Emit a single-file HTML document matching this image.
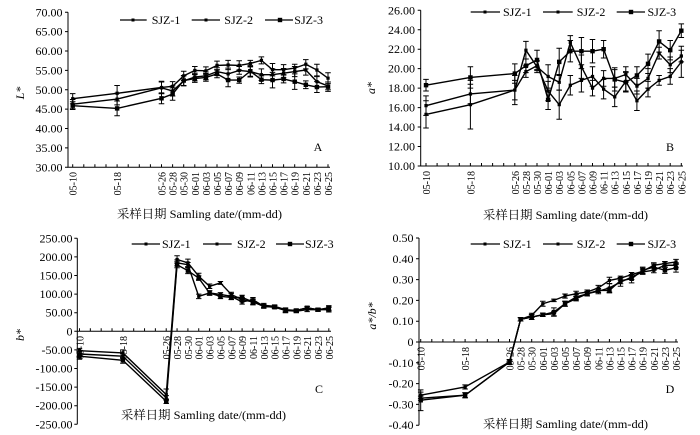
<!DOCTYPE html>
<html><head><meta charset="utf-8"><style>
html,body{margin:0;padding:0;background:#fff}
svg{display:block}
text{font-family:"Liberation Serif","Noto Serif CJK SC",serif;fill:#000}
.d path,.d polyline{vector-effect:non-scaling-stroke;fill:none;stroke:#000}
.d polyline{stroke-width:1.4}
.d .e{stroke-width:1}
.d .m1{stroke-width:3.2;stroke-linecap:square}
.d .m3{stroke-width:4.4;stroke-linecap:square}
.ax{stroke:#000;fill:none;stroke-width:1}
.tk{stroke:#000;stroke-width:3}
.yl text{font-size:12px;text-anchor:end}
.xl text{font-size:10px;text-anchor:end}
.lg text{font-size:12px}
.lg path{stroke:#000;stroke-width:1.3}
</style></head><body>
<svg width="700" height="435" viewBox="0 0 700 435" xmlns="http://www.w3.org/2000/svg">
<rect width="700" height="435" fill="#fff"/>

<!-- ============ PANEL A ============ -->
<path class="ax" d="M68,12.3V167.3H330"/>
<line class="tk" x1="72.2" y1="165.8" x2="330" y2="165.8" stroke-dasharray="1 10.1"/>
<line class="tk" x1="66.5" y1="11.8" x2="66.5" y2="168" stroke-dasharray="1 18.375"/>
<g class="yl">
<text x="62.5" y="16.3">70.00</text><text x="62.5" y="35.7">65.00</text><text x="62.5" y="55.1">60.00</text>
<text x="62.5" y="74.4">55.00</text><text x="62.5" y="93.8">50.00</text><text x="62.5" y="113.2">45.00</text>
<text x="62.5" y="132.6">40.00</text><text x="62.5" y="151.9">35.00</text><text x="62.5" y="171.3">30.00</text>
</g>
<g class="xl" transform="translate(0,172)">
<text transform="translate(76.7,0) rotate(-90)">05-10</text>
<text transform="translate(121.1,0) rotate(-90)">05-18</text>
<text transform="translate(165.5,0) rotate(-90)">05-26</text>
<text transform="translate(176.6,0) rotate(-90)">05-28</text>
<text transform="translate(187.7,0) rotate(-90)">05-30</text>
<text transform="translate(198.8,0) rotate(-90)">06-01</text>
<text transform="translate(209.9,0) rotate(-90)">06-03</text>
<text transform="translate(221,0) rotate(-90)">06-05</text>
<text transform="translate(232.1,0) rotate(-90)">06-07</text>
<text transform="translate(243.2,0) rotate(-90)">06-09</text>
<text transform="translate(254.3,0) rotate(-90)">06-11</text>
<text transform="translate(265.4,0) rotate(-90)">06-13</text>
<text transform="translate(276.5,0) rotate(-90)">06-15</text>
<text transform="translate(287.6,0) rotate(-90)">06-17</text>
<text transform="translate(298.7,0) rotate(-90)">06-19</text>
<text transform="translate(309.8,0) rotate(-90)">06-21</text>
<text transform="translate(320.9,0) rotate(-90)">06-23</text>
<text transform="translate(332,0) rotate(-90)">06-25</text>
</g>
<text transform="translate(24,93) rotate(-90)" font-size="12" font-style="italic" text-anchor="middle">L*</text>
<text x="318" y="151" font-size="12" text-anchor="middle">A</text>
<text x="117" y="218" font-size="12" textLength="165" lengthAdjust="spacingAndGlyphs">采样日期 Samling date/(mm-dd)</text>
<g class="lg">
<path d="M120,20H146.7"/><rect x="131.5" y="18.5" width="3" height="3"/><text x="151.7" y="24">SJZ-1</text>
<path d="M191.7,20H220"/><rect x="204.5" y="18.5" width="3" height="3"/><text x="224.3" y="24">SJZ-2</text>
<path d="M265,20H293"/><rect x="277.8" y="17.8" width="4.4" height="4.4"/><text x="294.3" y="24">SJZ-3</text>
</g>
<g class="d" transform="matrix(5.55 0 0 -3.875 72.7 283.55)">
<polyline points="0,47.7 8,49.1 16,50.6 18,50.9 20,53.6 22,55 24,54.9 26,56.3 28,56.4 30,56.3 32,56.8 34,57.6 36,55.2 38,55.2 40,55.6 42,56.6 44,55.1 46,53"/>
<polyline points="0,46.3 8,47.6 16,50.5 18,49.7 20,52.3 22,53.3 24,53.6 26,54.7 28,54.1 30,55 32,54.7 34,53.9 36,53.9 38,54.3 40,54.7 42,55.1 44,52.1 46,51"/>
<polyline points="0,45.9 8,45.2 16,47.8 18,48.9 20,52.4 22,52.9 24,53.2 26,54.1 28,52.5 30,52.5 32,54.8 34,52.6 36,52.5 38,52.8 40,52.1 42,51.3 44,50.7 46,50.8"/>
<path class="e" d="M0,47.7m-.5,-1.3h1m-.5,0v2.6m-.5,0h1M8,49.1m-.5,-2h1m-.5,0v4m-.5,0h1M16,50.6m-.5,-1.6h1m-.5,0v3.2m-.5,0h1M18,50.9m-.5,-1.2h1m-.5,0v2.4m-.5,0h1M20,53.6m-.5,-1.2h1m-.5,0v2.4m-.5,0h1M22,55m-.5,-1h1m-.5,0v2m-.5,0h1M24,54.9m-.5,-1h1m-.5,0v2m-.5,0h1M26,56.3m-.5,-1.1h1m-.5,0v2.2m-.5,0h1M28,56.4m-.5,-1.2h1m-.5,0v2.4m-.5,0h1M30,56.3m-.5,-1.2h1m-.5,0v2.4m-.5,0h1M32,56.8m-.5,-.8h1m-.5,0v1.6m-.5,0h1M34,57.6m-.5,-.9h1m-.5,0v1.8m-.5,0h1M36,55.2m-.5,-1.6h1m-.5,0v3.2m-.5,0h1M38,55.2m-.5,-1.3h1m-.5,0v2.6m-.5,0h1M40,55.6m-.5,-1h1m-.5,0v2m-.5,0h1M42,56.6m-.5,-1.2h1m-.5,0v2.4m-.5,0h1M44,55.1m-.5,-1.5h1m-.5,0v3m-.5,0h1M46,53m-.5,-1.4h1m-.5,0v2.8m-.5,0h1"/>
<path class="e" d="M0,46.3m-.5,-1.2h1m-.5,0v2.4m-.5,0h1M8,47.6m-.5,-1.5h1m-.5,0v3m-.5,0h1M16,50.5m-.5,-1.5h1m-.5,0v3m-.5,0h1M18,49.7m-.5,-1.3h1m-.5,0v2.6m-.5,0h1M20,52.3m-.5,-1.3h1m-.5,0v2.6m-.5,0h1M22,53.3m-.5,-1h1m-.5,0v2m-.5,0h1M24,53.6m-.5,-1h1m-.5,0v2m-.5,0h1M26,54.7m-.5,-1h1m-.5,0v2m-.5,0h1M28,54.1m-.5,-1.5h1m-.5,0v3m-.5,0h1M30,55m-.5,-1h1m-.5,0v2m-.5,0h1M32,54.7m-.5,-1.2h1m-.5,0v2.4m-.5,0h1M34,53.9m-.5,-1.5h1m-.5,0v3m-.5,0h1M36,53.9m-.5,-1.5h1m-.5,0v3m-.5,0h1M38,54.3m-.5,-1.2h1m-.5,0v2.4m-.5,0h1M40,54.7m-.5,-1.3h1m-.5,0v2.6m-.5,0h1M42,55.1m-.5,-1.3h1m-.5,0v2.6m-.5,0h1M44,52.1m-.5,-1.3h1m-.5,0v2.6m-.5,0h1M46,51m-.5,-1h1m-.5,0v2m-.5,0h1"/>
<path class="e" d="M0,45.9m-.5,-1h1m-.5,0v2m-.5,0h1M8,45.2m-.5,-1.9h1m-.5,0v3.8m-.5,0h1M16,47.8m-.5,-1.4h1m-.5,0v2.8m-.5,0h1M18,48.9m-.5,-1.6h1m-.5,0v3.2m-.5,0h1M20,52.4m-.5,-1.3h1m-.5,0v2.6m-.5,0h1M22,52.9m-.5,-1h1m-.5,0v2m-.5,0h1M24,53.2m-.5,-1h1m-.5,0v2m-.5,0h1M26,54.1m-.5,-1h1m-.5,0v2m-.5,0h1M28,52.5m-.5,-1.7h1m-.5,0v3.4m-.5,0h1M30,52.5m-.5,-.8h1m-.5,0v1.6m-.5,0h1M32,54.8m-.5,-1.5h1m-.5,0v3m-.5,0h1M34,52.6m-.5,-1h1m-.5,0v2m-.5,0h1M36,52.5m-.5,-2h1m-.5,0v4m-.5,0h1M38,52.8m-.5,-1h1m-.5,0v2m-.5,0h1M40,52.1m-.5,-2h1m-.5,0v4m-.5,0h1M42,51.3m-.5,-1h1m-.5,0v2m-.5,0h1M44,50.7m-.5,-1.4h1m-.5,0v2.8m-.5,0h1M46,50.8m-.5,-1.2h1m-.5,0v2.4m-.5,0h1"/>
<path class="m1" d="M0,47.7h.01M8,49.1h.01M16,50.6h.01M18,50.9h.01M20,53.6h.01M22,55h.01M24,54.9h.01M26,56.3h.01M28,56.4h.01M30,56.3h.01M32,56.8h.01M34,57.6h.01M36,55.2h.01M38,55.2h.01M40,55.6h.01M42,56.6h.01M44,55.1h.01M46,53h.01"/>
<path class="m1" d="M0,46.3h.01M8,47.6h.01M16,50.5h.01M18,49.7h.01M20,52.3h.01M22,53.3h.01M24,53.6h.01M26,54.7h.01M28,54.1h.01M30,55h.01M32,54.7h.01M34,53.9h.01M36,53.9h.01M38,54.3h.01M40,54.7h.01M42,55.1h.01M44,52.1h.01M46,51h.01"/>
<path class="m3" d="M0,45.9h.01M8,45.2h.01M16,47.8h.01M18,48.9h.01M20,52.4h.01M22,52.9h.01M24,53.2h.01M26,54.1h.01M28,52.5h.01M30,52.5h.01M32,54.8h.01M34,52.6h.01M36,52.5h.01M38,52.8h.01M40,52.1h.01M42,51.3h.01M44,50.7h.01M46,50.8h.01"/>
</g>

<!-- ============ PANEL B ============ -->
<path class="ax" d="M420.7,10.3V166H683"/>
<line class="tk" x1="425.5" y1="164.5" x2="683" y2="164.5" stroke-dasharray="1 10.1"/>
<line class="tk" x1="419.2" y1="9.8" x2="419.2" y2="167" stroke-dasharray="1 18.46"/>
<g class="yl">
<text x="415" y="14.3">26.00</text><text x="415" y="33.8">24.00</text><text x="415" y="53.2">22.00</text>
<text x="415" y="72.7">20.00</text><text x="415" y="92.1">18.00</text><text x="415" y="111.6">16.00</text>
<text x="415" y="131.1">14.00</text><text x="415" y="150.5">12.00</text><text x="415" y="170">10.00</text>
</g>
<g class="xl" transform="translate(353.3,171)">
<text transform="translate(76.7,0) rotate(-90)">05-10</text>
<text transform="translate(121.1,0) rotate(-90)">05-18</text>
<text transform="translate(165.5,0) rotate(-90)">05-26</text>
<text transform="translate(176.6,0) rotate(-90)">05-28</text>
<text transform="translate(187.7,0) rotate(-90)">05-30</text>
<text transform="translate(198.8,0) rotate(-90)">06-01</text>
<text transform="translate(209.9,0) rotate(-90)">06-03</text>
<text transform="translate(221,0) rotate(-90)">06-05</text>
<text transform="translate(232.1,0) rotate(-90)">06-07</text>
<text transform="translate(243.2,0) rotate(-90)">06-09</text>
<text transform="translate(254.3,0) rotate(-90)">06-11</text>
<text transform="translate(265.4,0) rotate(-90)">06-13</text>
<text transform="translate(276.5,0) rotate(-90)">06-15</text>
<text transform="translate(287.6,0) rotate(-90)">06-17</text>
<text transform="translate(298.7,0) rotate(-90)">06-19</text>
<text transform="translate(309.8,0) rotate(-90)">06-21</text>
<text transform="translate(320.9,0) rotate(-90)">06-23</text>
<text transform="translate(332,0) rotate(-90)">06-25</text>
</g>
<text transform="translate(375,88) rotate(-90)" font-size="12" font-style="italic" text-anchor="middle">a*</text>
<text x="670" y="151" font-size="12" text-anchor="middle">B</text>
<text x="483" y="219" font-size="12" textLength="165" lengthAdjust="spacingAndGlyphs">采样日期 Samling date/(mm-dd)</text>
<g class="lg">
<path d="M470.7,12H500"/><rect x="483.5" y="10.5" width="3" height="3"/><text x="503" y="16">SJZ-1</text>
<path d="M543,12H572.7"/><rect x="556.5" y="10.5" width="3" height="3"/><text x="576.7" y="16">SJZ-2</text>
<path d="M616.7,12H645"/><rect x="628.8" y="9.8" width="4.4" height="4.4"/><text x="647.5" y="16">SJZ-3</text>
</g>
<g class="d" transform="matrix(5.55 0 0 -9.73 426 263.28)">
<polyline points="0,18.3 8,19.1 16,19.5 18,20.3 20,20.9 22,16.8 24,20.7 26,21.8 28,21.8 30,21.8 32,22 34,18.9 36,18.6 38,19.3 40,20.5 42,22.8 44,21.9 46,23.9"/>
<polyline points="0,16.2 8,17.4 16,17.8 18,21.9 20,20.2 22,19.2 24,18.6 26,22.7 28,20.2 30,18 32,19 34,19 36,19.4 38,18.2 40,19 42,21.6 44,20.4 46,21.3"/>
<polyline points="0,15.3 8,16.3 16,17.8 18,19.7 20,20.3 22,17.7 24,16.3 26,18.3 28,18.8 30,19.2 32,17.9 34,17.1 36,18.7 38,16.7 40,17.9 42,18.8 44,19.2 46,20.7"/>
<path class="e" d="M0,18.3m-.5,-.6h1m-.5,0v1.2m-.5,0h1M8,19.1m-.5,-1.1h1m-.5,0v2.2m-.5,0h1M16,19.5m-.5,-1h1m-.5,0v2m-.5,0h1M18,20.3m-.5,-.7h1m-.5,0v1.4m-.5,0h1M20,20.9m-.5,-1h1m-.5,0v2m-.5,0h1M22,16.8m-.5,-1h1m-.5,0v2m-.5,0h1M24,20.7m-.5,-1.4h1m-.5,0v2.8m-.5,0h1M26,21.8m-.5,-1.1h1m-.5,0v2.2m-.5,0h1M28,21.8m-.5,-1.4h1m-.5,0v2.8m-.5,0h1M30,21.8m-.5,-1.2h1m-.5,0v2.4m-.5,0h1M32,22m-.5,-.9h1m-.5,0v1.8m-.5,0h1M34,18.9m-.5,-1.2h1m-.5,0v2.4m-.5,0h1M36,18.6m-.5,-1h1m-.5,0v2m-.5,0h1M38,19.3m-.5,-.9h1m-.5,0v1.8m-.5,0h1M40,20.5m-.5,-1h1m-.5,0v2m-.5,0h1M42,22.8m-.5,-1.1h1m-.5,0v2.2m-.5,0h1M44,21.9m-.5,-1h1m-.5,0v2m-.5,0h1M46,23.9m-.5,-.7h1m-.5,0v1.4m-.5,0h1"/>
<path class="e" d="M0,16.2m-.5,-1h1m-.5,0v2m-.5,0h1M8,17.4m-.5,-1h1m-.5,0v2m-.5,0h1M16,17.8m-.5,-1h1m-.5,0v2m-.5,0h1M18,21.9m-.5,-.9h1m-.5,0v1.8m-.5,0h1M20,20.2m-.5,-.6h1m-.5,0v1.2m-.5,0h1M22,19.2m-.5,-1.2h1m-.5,0v2.4m-.5,0h1M24,18.6m-.5,-.8h1m-.5,0v1.6m-.5,0h1M26,22.7m-.5,-.7h1m-.5,0v1.4m-.5,0h1M28,20.2m-.5,-1.2h1m-.5,0v2.4m-.5,0h1M30,18m-.5,-.8h1m-.5,0v1.6m-.5,0h1M32,19m-.5,-.8h1m-.5,0v1.6m-.5,0h1M34,19m-.5,-.9h1m-.5,0v1.8m-.5,0h1M36,19.4m-.5,-.8h1m-.5,0v1.6m-.5,0h1M38,18.2m-.5,-.8h1m-.5,0v1.6m-.5,0h1M40,19m-.5,-1h1m-.5,0v2m-.5,0h1M42,21.6m-.5,-.6h1m-.5,0v1.2m-.5,0h1M44,20.4m-.5,-.8h1m-.5,0v1.6m-.5,0h1M46,21.3m-.5,-.6h1m-.5,0v1.2m-.5,0h1"/>
<path class="e" d="M0,15.3m-.5,-1.4h1m-.5,0v2.8m-.5,0h1M8,16.3m-.5,-2.5h1m-.5,0v5m-.5,0h1M16,17.8m-.5,-1.5h1m-.5,0v3m-.5,0h1M18,19.7m-.5,-.6h1m-.5,0v1.2m-.5,0h1M20,20.3m-.5,-.5h1m-.5,0v1m-.5,0h1M22,17.7m-.5,-1h1m-.5,0v2m-.5,0h1M24,16.3m-.5,-1.5h1m-.5,0v3m-.5,0h1M26,18.3m-.5,-1h1m-.5,0v2m-.5,0h1M28,18.8m-.5,-1.2h1m-.5,0v2.4m-.5,0h1M30,19.2m-.5,-1h1m-.5,0v2m-.5,0h1M32,17.9m-.5,-1h1m-.5,0v2m-.5,0h1M34,17.1m-.5,-1h1m-.5,0v2m-.5,0h1M36,18.7m-.5,-1h1m-.5,0v2m-.5,0h1M38,16.7m-.5,-1h1m-.5,0v2m-.5,0h1M40,17.9m-.5,-.8h1m-.5,0v1.6m-.5,0h1M42,18.8m-.5,-.5h1m-.5,0v1m-.5,0h1M44,19.2m-.5,-.8h1m-.5,0v1.6m-.5,0h1M46,20.7m-.5,-1.6h1m-.5,0v3.2m-.5,0h1"/>
<path class="m3" d="M0,18.3h.01M8,19.1h.01M16,19.5h.01M18,20.3h.01M20,20.9h.01M22,16.8h.01M24,20.7h.01M26,21.8h.01M28,21.8h.01M30,21.8h.01M32,22h.01M34,18.9h.01M36,18.6h.01M38,19.3h.01M40,20.5h.01M42,22.8h.01M44,21.9h.01M46,23.9h.01"/>
<path class="m1" d="M0,16.2h.01M8,17.4h.01M16,17.8h.01M18,21.9h.01M20,20.2h.01M22,19.2h.01M24,18.6h.01M26,22.7h.01M28,20.2h.01M30,18h.01M32,19h.01M34,19h.01M36,19.4h.01M38,18.2h.01M40,19h.01M42,21.6h.01M44,20.4h.01M46,21.3h.01"/>
<path class="m1" d="M0,15.3h.01M8,16.3h.01M16,17.8h.01M18,19.7h.01M20,20.3h.01M22,17.7h.01M24,16.3h.01M26,18.3h.01M28,18.8h.01M30,19.2h.01M32,17.9h.01M34,17.1h.01M36,18.7h.01M38,16.7h.01M40,17.9h.01M42,18.8h.01M44,19.2h.01M46,20.7h.01"/>
</g>

<!-- ============ PANEL C ============ -->
<path class="ax" d="M77.3,238.3V424.3M77.3,331.3H331"/>
<line class="tk" x1="79" y1="329.8" x2="331" y2="329.8" stroke-dasharray="1 9.84"/>
<line class="tk" x1="75.8" y1="237.8" x2="75.8" y2="425" stroke-dasharray="1 17.6"/>
<g class="yl">
<text x="72.5" y="242.3">250.00</text><text x="72.5" y="260.9">200.00</text><text x="72.5" y="279.5">150.00</text>
<text x="72.5" y="298.1">100.00</text><text x="72.5" y="316.7">50.00</text><text x="72.5" y="335.3">0</text>
<text x="72.5" y="353.9">-50.00</text><text x="72.5" y="372.5">-100.00</text><text x="72.5" y="391.1">-150.00</text>
<text x="72.5" y="409.7">-200.00</text><text x="72.5" y="428.3">-250.00</text>
</g>
<g class="xl" transform="translate(0,336)">
<text transform="translate(83.5,0) rotate(-90)">05-10</text>
<text transform="translate(126.9,0) rotate(-90)">05-18</text>
<text transform="translate(170.2,0) rotate(-90)">05-26</text>
<text transform="translate(181.1,0) rotate(-90)">05-28</text>
<text transform="translate(191.9,0) rotate(-90)">05-30</text>
<text transform="translate(202.7,0) rotate(-90)">06-01</text>
<text transform="translate(213.6,0) rotate(-90)">06-03</text>
<text transform="translate(224.4,0) rotate(-90)">06-05</text>
<text transform="translate(235.3,0) rotate(-90)">06-07</text>
<text transform="translate(246.1,0) rotate(-90)">06-09</text>
<text transform="translate(256.9,0) rotate(-90)">06-11</text>
<text transform="translate(267.8,0) rotate(-90)">06-13</text>
<text transform="translate(278.6,0) rotate(-90)">06-15</text>
<text transform="translate(289.5,0) rotate(-90)">06-17</text>
<text transform="translate(300.3,0) rotate(-90)">06-19</text>
<text transform="translate(311.1,0) rotate(-90)">06-21</text>
<text transform="translate(322,0) rotate(-90)">06-23</text>
<text transform="translate(332.8,0) rotate(-90)">06-25</text>
</g>
<text transform="translate(24,335) rotate(-90)" font-size="12" font-style="italic" text-anchor="middle">b*</text>
<text x="319" y="393" font-size="12" text-anchor="middle">C</text>
<text x="121" y="419" font-size="12" textLength="165" lengthAdjust="spacingAndGlyphs">采样日期 Samling date/(mm-dd)</text>
<g class="lg">
<path d="M131.7,244H160"/><rect x="144.5" y="242.5" width="3" height="3"/><text x="162" y="248">SJZ-1</text>
<path d="M203,244H231.7"/><rect x="215.5" y="242.5" width="3" height="3"/><text x="237" y="248">SJZ-2</text>
<path d="M276,244H304"/><rect x="287.8" y="241.8" width="4.4" height="4.4"/><text x="305" y="248">SJZ-3</text>
</g>
<g class="d" transform="matrix(5.42 0 0 -0.372 79.5 331.3)">
<polyline points="0,-52 8,-58 16,-170 18,193 20,184 22,148 24,121 26,130 28,99 30,85 32,79 34,70 36,67 38,58 40,56 42,63 44,58 46,63"/>
<polyline points="0,-61 8,-67 16,-179 18,184 20,179 22,94 24,103 26,99 28,94 30,79 32,85 34,67 36,65 38,56 40,54 42,58 44,58 46,58"/>
<polyline points="0,-67 8,-78 16,-188 18,179 20,163 22,143 24,103 26,94 28,91 30,91 32,79 34,67 36,65 38,56 40,56 42,63 44,58 46,61"/>
<path class="e" d="M0,-52m-.5,-6h1m-.5,0v12m-.5,0h1M8,-58m-.5,-8h1m-.5,0v16m-.5,0h1M16,-170m-.5,-15h1m-.5,0v30m-.5,0h1M18,193m-.5,-10h1m-.5,0v20m-.5,0h1M20,184m-.5,-10h1m-.5,0v20m-.5,0h1M22,148m-.5,-8h1m-.5,0v16m-.5,0h1M24,121m-.5,-6h1m-.5,0v12m-.5,0h1M26,130m-.5,-4h1m-.5,0v8m-.5,0h1M28,99m-.5,-6h1m-.5,0v12m-.5,0h1M30,85m-.5,-6h1m-.5,0v12m-.5,0h1M32,79m-.5,-8h1m-.5,0v16m-.5,0h1M34,70m-.5,-5h1m-.5,0v10m-.5,0h1M36,67m-.5,-4h1m-.5,0v8m-.5,0h1M38,58m-.5,-5h1m-.5,0v10m-.5,0h1M40,56m-.5,-4h1m-.5,0v8m-.5,0h1M42,63m-.5,-4h1m-.5,0v8m-.5,0h1M44,58m-.5,-4h1m-.5,0v8m-.5,0h1M46,63m-.5,-6h1m-.5,0v12m-.5,0h1"/>
<path class="e" d="M0,-61m-.5,-6h1m-.5,0v12m-.5,0h1M8,-67m-.5,-6h1m-.5,0v12m-.5,0h1M16,-179m-.5,-6h1m-.5,0v12m-.5,0h1M18,184m-.5,-8h1m-.5,0v16m-.5,0h1M20,179m-.5,-6h1m-.5,0v12m-.5,0h1M22,94m-.5,-6h1m-.5,0v12m-.5,0h1M24,103m-.5,-6h1m-.5,0v12m-.5,0h1M26,99m-.5,-5h1m-.5,0v10m-.5,0h1M28,94m-.5,-8h1m-.5,0v16m-.5,0h1M30,79m-.5,-6h1m-.5,0v12m-.5,0h1M32,85m-.5,-6h1m-.5,0v12m-.5,0h1M34,67m-.5,-5h1m-.5,0v10m-.5,0h1M36,65m-.5,-4h1m-.5,0v8m-.5,0h1M38,56m-.5,-6h1m-.5,0v12m-.5,0h1M40,54m-.5,-4h1m-.5,0v8m-.5,0h1M42,58m-.5,-5h1m-.5,0v10m-.5,0h1M44,58m-.5,-4h1m-.5,0v8m-.5,0h1M46,58m-.5,-6h1m-.5,0v12m-.5,0h1"/>
<path class="e" d="M0,-67m-.5,-8h1m-.5,0v16m-.5,0h1M8,-78m-.5,-8h1m-.5,0v16m-.5,0h1M16,-188m-.5,-6h1m-.5,0v12m-.5,0h1M18,179m-.5,-8h1m-.5,0v16m-.5,0h1M20,163m-.5,-8h1m-.5,0v16m-.5,0h1M22,143m-.5,-6h1m-.5,0v12m-.5,0h1M24,103m-.5,-6h1m-.5,0v12m-.5,0h1M26,94m-.5,-6h1m-.5,0v12m-.5,0h1M28,91m-.5,-6h1m-.5,0v12m-.5,0h1M30,91m-.5,-6h1m-.5,0v12m-.5,0h1M32,79m-.5,-6h1m-.5,0v12m-.5,0h1M34,67m-.5,-4h1m-.5,0v8m-.5,0h1M36,65m-.5,-4h1m-.5,0v8m-.5,0h1M38,56m-.5,-5h1m-.5,0v10m-.5,0h1M40,56m-.5,-4h1m-.5,0v8m-.5,0h1M42,63m-.5,-4h1m-.5,0v8m-.5,0h1M44,58m-.5,-3h1m-.5,0v6m-.5,0h1M46,61m-.5,-6h1m-.5,0v12m-.5,0h1"/>
<path class="m1" d="M0,-52h.01M8,-58h.01M16,-170h.01M18,193h.01M20,184h.01M22,148h.01M24,121h.01M26,130h.01M28,99h.01M30,85h.01M32,79h.01M34,70h.01M36,67h.01M38,58h.01M40,56h.01M42,63h.01M44,58h.01M46,63h.01"/>
<path class="m1" d="M0,-61h.01M8,-67h.01M16,-179h.01M18,184h.01M20,179h.01M22,94h.01M24,103h.01M26,99h.01M28,94h.01M30,79h.01M32,85h.01M34,67h.01M36,65h.01M38,56h.01M40,54h.01M42,58h.01M44,58h.01M46,58h.01"/>
<path class="m3" d="M0,-67h.01M8,-78h.01M16,-188h.01M18,179h.01M20,163h.01M22,143h.01M24,103h.01M26,94h.01M28,91h.01M30,91h.01M32,79h.01M34,67h.01M36,65h.01M38,56h.01M40,56h.01M42,63h.01M44,58h.01M46,61h.01"/>
</g>

<!-- ============ PANEL D ============ -->
<path class="ax" d="M419,238V425.2M419,342H678"/>
<line class="tk" x1="420.2" y1="340.5" x2="678" y2="340.5" stroke-dasharray="1 10.1"/>
<line class="tk" x1="417.5" y1="237.5" x2="417.5" y2="426" stroke-dasharray="1 19.8"/>
<g class="yl">
<text x="413.5" y="242">0.50</text><text x="413.5" y="262.8">0.40</text><text x="413.5" y="283.6">0.30</text>
<text x="413.5" y="304.4">0.20</text><text x="413.5" y="325.2">0.10</text><text x="413.5" y="346">0</text>
<text x="413.5" y="366.8">-0.10</text><text x="413.5" y="387.6">-0.20</text><text x="413.5" y="408.4">-0.30</text>
<text x="413.5" y="429.2">-0.40</text>
</g>
<g class="xl" transform="translate(348,347)">
<text transform="translate(76.7,0) rotate(-90)">05-10</text>
<text transform="translate(121.1,0) rotate(-90)">05-18</text>
<text transform="translate(165.5,0) rotate(-90)">05-26</text>
<text transform="translate(176.6,0) rotate(-90)">05-28</text>
<text transform="translate(187.7,0) rotate(-90)">05-30</text>
<text transform="translate(198.8,0) rotate(-90)">06-01</text>
<text transform="translate(209.9,0) rotate(-90)">06-03</text>
<text transform="translate(221,0) rotate(-90)">06-05</text>
<text transform="translate(232.1,0) rotate(-90)">06-07</text>
<text transform="translate(243.2,0) rotate(-90)">06-09</text>
<text transform="translate(254.3,0) rotate(-90)">06-11</text>
<text transform="translate(265.4,0) rotate(-90)">06-13</text>
<text transform="translate(276.5,0) rotate(-90)">06-15</text>
<text transform="translate(287.6,0) rotate(-90)">06-17</text>
<text transform="translate(298.7,0) rotate(-90)">06-19</text>
<text transform="translate(309.8,0) rotate(-90)">06-21</text>
<text transform="translate(320.9,0) rotate(-90)">06-23</text>
<text transform="translate(332,0) rotate(-90)">06-25</text>
</g>
<text transform="translate(376,316) rotate(-90)" font-size="12" font-style="italic" text-anchor="middle">a*/b*</text>
<text x="670" y="393" font-size="12" text-anchor="middle">D</text>
<text x="483" y="428" font-size="12" textLength="165" lengthAdjust="spacingAndGlyphs">采样日期 Samling date/(mm-dd)</text>
<g class="lg">
<path d="M470.7,244H500"/><rect x="483.5" y="242.5" width="3" height="3"/><text x="503" y="248">SJZ-1</text>
<path d="M543,244H572.7"/><rect x="556.5" y="242.5" width="3" height="3"/><text x="576.7" y="248">SJZ-2</text>
<path d="M616.7,244H645"/><rect x="628.8" y="241.8" width="4.4" height="4.4"/><text x="647.5" y="248">SJZ-3</text>
</g>
<g class="d" transform="matrix(5.55 0 0 -208 420.7 342)">
<polyline points="0,-.256 8,-.216 16,-.096 18,.109 20,.128 22,.184 24,.2 26,.221 28,.232 30,.24 32,.26 34,.296 36,.307 38,.324 40,.34 42,.369 44,.377 46,.385"/>
<polyline points="0,-.27 8,-.256 16,-.096 18,.109 20,.12 22,.131 24,.136 26,.184 28,.216 30,.232 32,.244 34,.26 36,.288 38,.312 40,.337 42,.345 44,.369 46,.369"/>
<polyline points="0,-.28 8,-.256 16,-.096 18,.109 20,.12 22,.131 24,.144 26,.184 28,.208 30,.232 32,.248 34,.248 36,.295 38,.304 40,.345 42,.36 44,.345 46,.356"/>
<path class="e" d="M0,-.256m-.5,-.015h1m-.5,0v.03m-.5,0h1M8,-.216m-.5,-.01h1m-.5,0v.02m-.5,0h1M16,-.096m-.5,-.01h1m-.5,0v.02m-.5,0h1M18,.109m-.5,-.008h1m-.5,0v.016m-.5,0h1M20,.128m-.5,-.01h1m-.5,0v.02m-.5,0h1M22,.184m-.5,-.012h1m-.5,0v.024m-.5,0h1M24,.2m-.5,-.006h1m-.5,0v.012m-.5,0h1M26,.221m-.5,-.01h1m-.5,0v.02m-.5,0h1M28,.232m-.5,-.012h1m-.5,0v.024m-.5,0h1M30,.24m-.5,-.01h1m-.5,0v.02m-.5,0h1M32,.26m-.5,-.012h1m-.5,0v.024m-.5,0h1M34,.296m-.5,-.015h1m-.5,0v.03m-.5,0h1M36,.307m-.5,-.01h1m-.5,0v.02m-.5,0h1M38,.324m-.5,-.01h1m-.5,0v.02m-.5,0h1M40,.34m-.5,-.015h1m-.5,0v.03m-.5,0h1M42,.369m-.5,-.012h1m-.5,0v.024m-.5,0h1M44,.377m-.5,-.01h1m-.5,0v.02m-.5,0h1M46,.385m-.5,-.012h1m-.5,0v.024m-.5,0h1"/>
<path class="e" d="M0,-.27m-.5,-.01h1m-.5,0v.02m-.5,0h1M8,-.256m-.5,-.012h1m-.5,0v.024m-.5,0h1M16,-.096m-.5,-.01h1m-.5,0v.02m-.5,0h1M18,.109m-.5,-.008h1m-.5,0v.016m-.5,0h1M20,.12m-.5,-.012h1m-.5,0v.024m-.5,0h1M22,.131m-.5,-.008h1m-.5,0v.016m-.5,0h1M24,.136m-.5,-.01h1m-.5,0v.02m-.5,0h1M26,.184m-.5,-.012h1m-.5,0v.024m-.5,0h1M28,.216m-.5,-.012h1m-.5,0v.024m-.5,0h1M30,.232m-.5,-.01h1m-.5,0v.02m-.5,0h1M32,.244m-.5,-.012h1m-.5,0v.024m-.5,0h1M34,.26m-.5,-.02h1m-.5,0v.04m-.5,0h1M36,.288m-.5,-.02h1m-.5,0v.04m-.5,0h1M38,.312m-.5,-.012h1m-.5,0v.024m-.5,0h1M40,.337m-.5,-.01h1m-.5,0v.02m-.5,0h1M42,.345m-.5,-.012h1m-.5,0v.024m-.5,0h1M44,.369m-.5,-.01h1m-.5,0v.02m-.5,0h1M46,.369m-.5,-.012h1m-.5,0v.024m-.5,0h1"/>
<path class="e" d="M0,-.28m-.5,-.05h1m-.5,0v.1m-.5,0h1M8,-.256m-.5,-.012h1m-.5,0v.024m-.5,0h1M16,-.096m-.5,-.012h1m-.5,0v.024m-.5,0h1M18,.109m-.5,-.008h1m-.5,0v.016m-.5,0h1M20,.12m-.5,-.012h1m-.5,0v.024m-.5,0h1M22,.131m-.5,-.008h1m-.5,0v.016m-.5,0h1M24,.144m-.5,-.02h1m-.5,0v.04m-.5,0h1M26,.184m-.5,-.012h1m-.5,0v.024m-.5,0h1M28,.208m-.5,-.01h1m-.5,0v.02m-.5,0h1M30,.232m-.5,-.01h1m-.5,0v.02m-.5,0h1M32,.248m-.5,-.01h1m-.5,0v.02m-.5,0h1M34,.248m-.5,-.012h1m-.5,0v.024m-.5,0h1M36,.295m-.5,-.015h1m-.5,0v.03m-.5,0h1M38,.304m-.5,-.02h1m-.5,0v.04m-.5,0h1M40,.345m-.5,-.015h1m-.5,0v.03m-.5,0h1M42,.36m-.5,-.015h1m-.5,0v.03m-.5,0h1M44,.345m-.5,-.015h1m-.5,0v.03m-.5,0h1M46,.356m-.5,-.02h1m-.5,0v.04m-.5,0h1"/>
<path class="m1" d="M0,-.256h.01M8,-.216h.01M16,-.096h.01M18,.109h.01M20,.128h.01M22,.184h.01M24,.2h.01M26,.221h.01M28,.232h.01M30,.24h.01M32,.26h.01M34,.296h.01M36,.307h.01M38,.324h.01M40,.34h.01M42,.369h.01M44,.377h.01M46,.385h.01"/>
<path class="m1" d="M0,-.27h.01M8,-.256h.01M16,-.096h.01M18,.109h.01M20,.12h.01M22,.131h.01M24,.136h.01M26,.184h.01M28,.216h.01M30,.232h.01M32,.244h.01M34,.26h.01M36,.288h.01M38,.312h.01M40,.337h.01M42,.345h.01M44,.369h.01M46,.369h.01"/>
<path class="m3" d="M0,-.28h.01M8,-.256h.01M16,-.096h.01M18,.109h.01M20,.12h.01M22,.131h.01M24,.144h.01M26,.184h.01M28,.208h.01M30,.232h.01M32,.248h.01M34,.248h.01M36,.295h.01M38,.304h.01M40,.345h.01M42,.36h.01M44,.345h.01M46,.356h.01"/>
</g>
</svg>
</body></html>
